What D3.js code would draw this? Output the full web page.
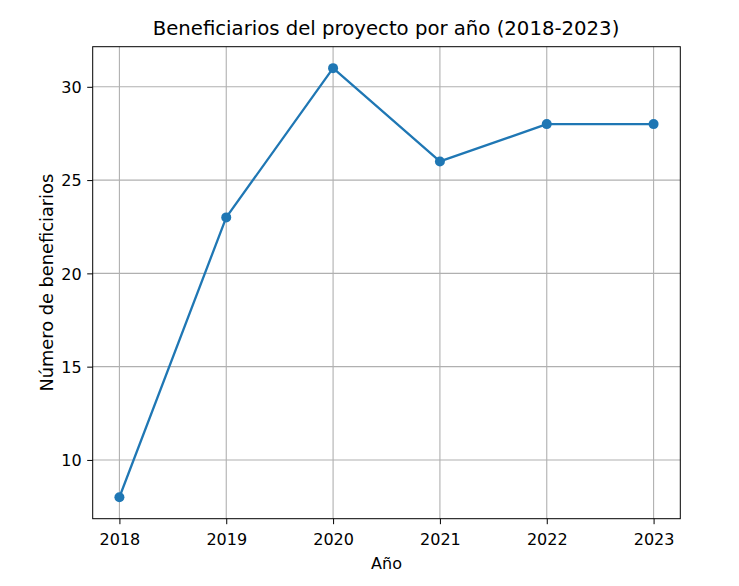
<!DOCTYPE html>
<html>
<head>
<meta charset="utf-8">
<script src="https://cdn.jsdelivr.net/npm/d3@7"></script>
<style>
  html, body { margin: 0; padding: 0; background: #fff; }
  svg { display: block; }
  text { font-family: "DejaVu Sans", sans-serif; fill: #000; }
</style>
</head>
<body>
<svg id="chart" width="739" height="586"></svg>
<script>
const years = [2018, 2019, 2020, 2021, 2022, 2023];
const beneficiarios = [8, 23, 31, 26, 28, 28];
const yTicks = [10, 15, 20, 25, 30];
const titleText = "Beneficiarios del proyecto por año (2018-2023)";
const xLabelText = "Año";
const yLabelText = "Número de beneficiarios";

const W = 739, H = 586;
const mLeft = 92.7, mRight = 680.3, mTop = 46.7, mBottom = 518.7;
const color = "#1f77b4";

const svg = d3.select("#chart");

const xMin = d3.min(years), xMax = d3.max(years);
const xPad = (xMax - xMin) * 0.05;
const x = d3.scaleLinear().domain([xMin - xPad, xMax + xPad]).range([mLeft, mRight]);
const yMinV = d3.min(beneficiarios), yMaxV = d3.max(beneficiarios);
const yPad = (yMaxV - yMinV) * 0.05;
const y = d3.scaleLinear().domain([yMinV - yPad, yMaxV + yPad]).range([mBottom, mTop]);

// grid
const grid = svg.append("g");
grid.selectAll("line.gx").data(years).enter().append("line")
  .attr("x1", d => x(d)).attr("x2", d => x(d))
  .attr("y1", mTop).attr("y2", mBottom)
  .attr("stroke", "#b0b0b0").attr("stroke-width", 1.1);
grid.selectAll("line.gy").data(yTicks).enter().append("line")
  .attr("y1", d => y(d)).attr("y2", d => y(d))
  .attr("x1", mLeft).attr("x2", mRight)
  .attr("stroke", "#b0b0b0").attr("stroke-width", 1.1);

// axes
const tickSize = 5.5, tickPad = 5.5;
const xAxis = d3.axisBottom(x).tickValues(years).tickFormat(d3.format("d"))
  .tickSize(tickSize).tickPadding(tickPad).tickSizeOuter(0);
const yAxis = d3.axisLeft(y).tickValues(yTicks).tickFormat(d3.format("d"))
  .tickSize(tickSize).tickPadding(tickPad).tickSizeOuter(0);

const gx = svg.append("g").attr("transform", `translate(0,${mBottom})`).call(xAxis);
const gy = svg.append("g").attr("transform", `translate(${mLeft},0)`).call(yAxis);
[gx, gy].forEach(g => {
  g.select(".domain").remove();
  g.selectAll(".tick line").attr("stroke", "#000").attr("stroke-width", 1);
  g.selectAll(".tick text").attr("font-family", "DejaVu Sans").attr("font-size", 16).attr("fill", "#000");
});
gx.selectAll(".tick text").attr("dy", null).attr("y", 26);
gy.selectAll(".tick text").attr("dy", "0.36em");

// frame
svg.append("rect").attr("x", mLeft).attr("y", mTop)
  .attr("width", mRight - mLeft).attr("height", mBottom - mTop)
  .attr("fill", "none").attr("stroke", "#000").attr("stroke-width", 1);

// line
const data = years.map((d, i) => ({ year: d, v: beneficiarios[i] }));
svg.append("path").datum(data)
  .attr("d", d3.line().x(d => x(d.year)).y(d => y(d.v)))
  .attr("fill", "none").attr("stroke", color).attr("stroke-width", 2.3)
  .attr("stroke-linejoin", "round").attr("stroke-linecap", "square");
svg.selectAll("circle.pt").data(data).enter().append("circle")
  .attr("cx", d => x(d.year)).attr("cy", d => y(d.v)).attr("r", 5)
  .attr("fill", color);

// title and labels
svg.append("text").attr("x", (mLeft + mRight) / 2 - 0.5).attr("y", 35)
  .attr("text-anchor", "middle").attr("font-size", 19.7).text(titleText);
svg.append("text").attr("x", (mLeft + mRight) / 2).attr("y", 569)
  .attr("text-anchor", "middle").attr("font-size", 16).text(xLabelText);
svg.append("text").attr("transform", `translate(53,${(mTop + mBottom) / 2}) rotate(-90)`)
  .attr("text-anchor", "middle").attr("font-size", 17.8).text(yLabelText);
</script>
</body>
</html>
